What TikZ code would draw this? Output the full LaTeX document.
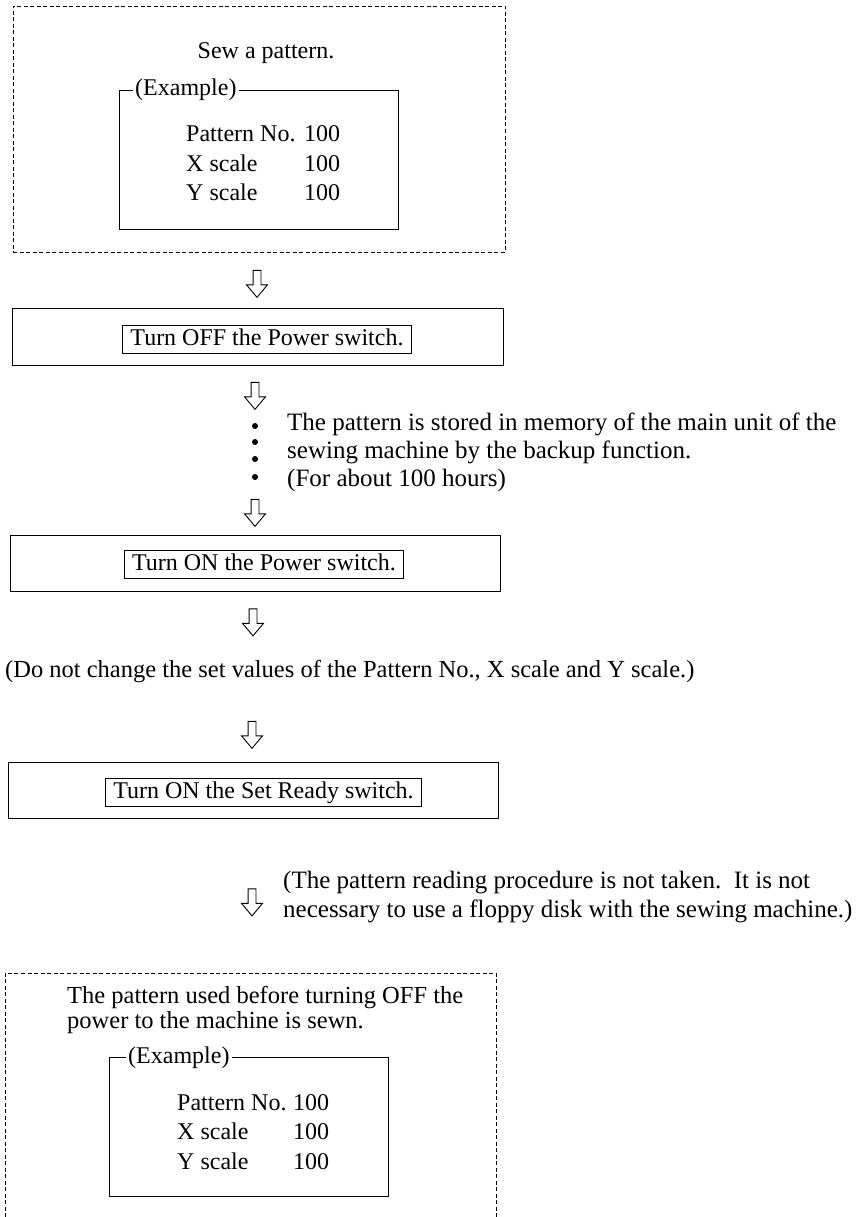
\documentclass[tikz,border=0pt]{standalone}
\usepackage{fontspec}
\setmainfont{Liberation Serif}
\usetikzlibrary{shapes.arrows}

\tikzset{
  every node/.style={font=\fontsize{24}{29}\selectfont},
  dashbox/.style={draw, dash pattern=on 4pt off 2.5pt, line width=0.9pt},
  stepbox/.style={draw, line width=1pt},
  keybox/.style={draw, line width=0.8pt, inner xsep=8pt, inner ysep=3pt, text height=17pt, text depth=5pt},
  flowarrow/.style={single arrow, draw, line width=0.9pt, rotate=-90,
    minimum height=27pt, minimum width=20pt, inner ysep=3.5pt, inner xsep=0pt,
    single arrow head extend=6.5pt, single arrow tip angle=80},
  exline/.style={line width=0.9pt},
}

\begin{document}
\begin{tikzpicture}[x=1pt, y=-1pt]
  \useasboundingbox[fill=white] (0,0) rectangle (858,1217);

  % sewing with the current pattern
  \node[dashbox, minimum width=492pt, minimum height=246pt] (sew) at (259,129) {};
  \node[anchor=base] (sewtxt) at (266,59) {Sew a pattern.};
  \node[anchor=base west, inner xsep=2pt] (ex1) at (133,96) {(Example)};
  \draw[exline] (ex1.west) -- ++(-14,0) |- (398,229) |- (ex1.east);
  \node[anchor=base west, inner sep=0pt, font=\fontsize{24}{29.5}\selectfont] (vals1) at (186,142)
    {\begin{tabular}[t]{@{}p{118pt}@{}l@{}}Pattern No. & 100\\ X scale & 100\\ Y scale & 100\end{tabular}};

  \node[flowarrow] (a1) at (257,281.5) {};

  % power off
  \node[stepbox, minimum width=491pt, minimum height=57pt] (off) at (257.5,336.5) {};
  \node[keybox] (offkey) at (267,339) {Turn OFF the Power switch.};

  \node[flowarrow] (a2) at (255,393.5) {};
  \foreach \y in {426,442,459,477}
    \fill (255,\y) circle (3pt);
  % anchored on the last line
  \node[anchor=base west, align=left, inner sep=0pt, font=\fontsize{25}{28}\selectfont] (backup) at (287,486)
    {The pattern is stored in memory of the main unit of the\\
     sewing machine by the backup function.\\
     (For about 100 hours)};
  \node[flowarrow] (a3) at (255,510.5) {};

  % power on
  \node[stepbox, minimum width=490pt, minimum height=56pt] (on) at (255,563) {};
  \node[keybox] (onkey) at (264,564) {Turn ON the Power switch.};

  \node[flowarrow] (a4) at (253,620) {};
  \node[anchor=base west, inner sep=0pt, font=\fontsize{24.5}{29}\selectfont] (keep) at (5,677)
    {(Do not change the set values of the Pattern No., X scale and Y scale.)};
  \node[flowarrow] (a5) at (252,732.5) {};

  % set ready
  \node[stepbox, minimum width=490pt, minimum height=56pt] (ready) at (253,790) {};
  \node[keybox] (readykey) at (263.5,792) {Turn ON the Set Ready switch.};

  \node[flowarrow] (a6) at (252,900) {};
  \node[anchor=base west, align=left, inner sep=0pt, font=\fontsize{25}{29}\selectfont] (nodisk) at (283,917)
    {(The pattern reading procedure is not taken.\ \ It is not\\
     necessary to use a floppy disk with the sewing machine.)};

  % result
  \draw[dashbox] (5,1230) |- (496,973) -- (496,1230);
  \node[anchor=base west, align=left, inner sep=0pt, font=\fontsize{24.5}{25}\selectfont] (result) at (67,1028)
    {The pattern used before turning OFF the\\
     power to the machine is sewn.};
  \node[anchor=base west, inner xsep=2pt] (ex2) at (126,1063) {(Example)};
  \draw[exline] (ex2.west) -- ++(-17,0) |- (388,1196) |- (ex2.east);
  \node[anchor=base west, inner sep=0pt, font=\fontsize{24}{29.5}\selectfont] (vals2) at (177,1110)
    {\begin{tabular}[t]{@{}p{116pt}@{}l@{}}Pattern No. & 100\\ X scale & 100\\ Y scale & 100\end{tabular}};
\end{tikzpicture}
\end{document}
